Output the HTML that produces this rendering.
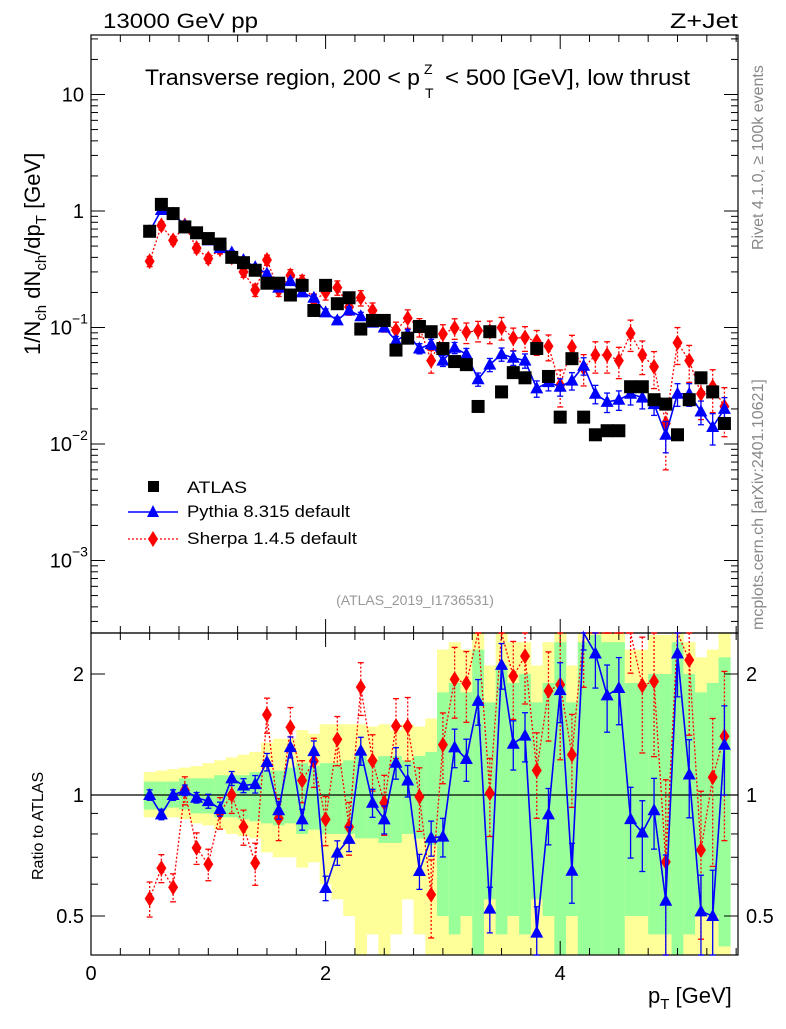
<!DOCTYPE html>
<html><head><meta charset="utf-8"><style>
body{margin:0;background:#fff;width:786px;height:1024px;overflow:hidden;font-family:"Liberation Sans",sans-serif}
svg text{font-family:"Liberation Sans",sans-serif}
</style></head><body>
<svg id="c" width="786" height="1024" xmlns="http://www.w3.org/2000/svg"></svg>
<script>
const xs=[0.5,0.6,0.7,0.8,0.9,1.0,1.1,1.2,1.3,1.4,1.5,1.6,1.7,1.8,1.9,2.0,2.1,2.2,2.3,2.4,2.5,2.6,2.7,2.8,2.9,3.0,3.1,3.2,3.3,3.4,3.5,3.6,3.7,3.8,3.9,4.0,4.1,4.2,4.3,4.4,4.5,4.6,4.7,4.8,4.9,5.0,5.1,5.2,5.3,5.4];
const atlasY=[0.67,1.14,0.95,0.73,0.65,0.58,0.52,0.40,0.36,0.31,0.24,0.24,0.19,0.23,0.14,0.23,0.16,0.18,0.097,0.115,0.115,0.064,0.081,0.102,0.092,0.066,0.051,0.048,0.021,0.092,0.028,0.041,0.037,0.066,0.038,0.017,0.054,0.017,0.012,0.013,0.013,0.031,0.031,0.024,0.022,0.012,0.024,0.037,0.028,0.015];
const pythiaY=[0.67,1.02,0.95,0.75,0.64,0.56,0.48,0.44,0.38,0.33,0.29,0.22,0.25,0.20,0.18,0.135,0.115,0.14,0.125,0.11,0.10,0.077,0.088,0.066,0.072,0.052,0.067,0.059,0.036,0.048,0.059,0.055,0.052,0.030,0.034,0.031,0.035,0.047,0.027,0.023,0.024,0.027,0.025,0.022,0.012,0.027,0.027,0.019,0.014,0.020];
const sherpaY=[0.37,0.75,0.56,0.75,0.48,0.39,0.47,0.40,0.30,0.21,0.38,0.21,0.28,0.25,0.17,0.20,0.22,0.15,0.18,0.14,0.11,0.095,0.12,0.101,0.052,0.088,0.099,0.091,0.094,0.093,0.10,0.081,0.082,0.076,0.069,0.032,0.068,0.045,0.058,0.058,0.052,0.089,0.058,0.046,0.015,0.074,0.052,0.027,0.031,0.021];
const pythiaErr=[0.03,0.03,0.03,0.03,0.03,0.04,0.04,0.04,0.04,0.05,0.05,0.05,0.06,0.06,0.06,0.07,0.07,0.07,0.08,0.08,0.08,0.09,0.09,0.1,0.1,0.11,0.11,0.12,0.13,0.13,0.13,0.14,0.14,0.16,0.16,0.17,0.17,0.17,0.18,0.19,0.19,0.2,0.2,0.2,0.3,0.22,0.22,0.23,0.3,0.25];
const sherpaErr=[0.1,0.08,0.08,0.08,0.09,0.09,0.09,0.1,0.1,0.12,0.1,0.12,0.12,0.12,0.14,0.14,0.14,0.15,0.15,0.16,0.17,0.17,0.18,0.18,0.22,0.2,0.2,0.2,0.2,0.22,0.22,0.22,0.24,0.24,0.25,0.35,0.26,0.3,0.3,0.3,0.3,0.3,0.32,0.35,0.6,0.35,0.35,0.4,0.4,0.45];
const greenLo=[0.92,0.92,0.93,0.92,0.9,0.9,0.88,0.88,0.87,0.86,0.85,0.84,0.85,0.8,0.82,0.8,0.8,0.8,0.78,0.78,0.76,0.76,0.8,0.78,0.75,0.5,0.45,0.5,0.4,0.55,0.45,0.5,0.45,0.55,0.5,0.4,0.5,0.4,0.38,0.4,0.4,0.5,0.5,0.45,0.45,0.38,0.45,0.5,0.5,0.42];
const greenHi=[1.08,1.08,1.08,1.1,1.1,1.1,1.12,1.12,1.12,1.14,1.15,1.15,1.17,1.2,1.18,1.2,1.2,1.22,1.25,1.22,1.25,1.25,1.22,1.25,1.28,1.8,1.9,1.8,2.3,1.7,2.1,1.9,2.0,1.7,1.9,2.4,1.7,2.4,2.5,2.4,2.4,1.9,1.9,2.0,2.0,2.4,2.0,1.8,1.9,2.2];
const yelLo=[0.88,0.88,0.88,0.87,0.85,0.84,0.82,0.8,0.79,0.78,0.72,0.7,0.7,0.66,0.68,0.6,0.55,0.5,0.38,0.45,0.38,0.45,0.55,0.45,0.4,0.35,0.35,0.35,0.3,0.35,0.3,0.3,0.3,0.35,0.3,0.3,0.3,0.3,0.3,0.3,0.3,0.35,0.35,0.3,0.3,0.3,0.3,0.35,0.3,0.3];
const yelHi=[1.14,1.15,1.16,1.17,1.18,1.2,1.22,1.24,1.26,1.28,1.35,1.38,1.38,1.45,1.42,1.5,1.5,1.5,1.5,1.48,1.5,1.45,1.5,1.48,1.55,2.3,2.4,2.3,2.6,2.1,2.6,2.4,2.4,2.1,2.4,2.6,2.1,2.6,2.6,2.6,2.6,2.3,2.3,2.5,2.5,2.6,2.4,2.2,2.3,2.6];
const NS='http://www.w3.org/2000/svg';
const svg=document.getElementById('c');
const L=91,R=738,T=35,MB=633,RB=955;
const X=v=>L+v*117.3;
const Y=v=>211-Math.log10(v)*116.5;
const RY=r=>795-Math.log2(r)*121;
const clipR=y=>Math.max(MB,Math.min(RB,y));
function el(t,a,p){const e=document.createElementNS(NS,t);for(const k in a)e.setAttribute(k,a[k]);(p||svg).appendChild(e);return e;}
function txt(s,x,y,a,p){const e=el('text',Object.assign({x:x,y:y,'font-size':20},a||{}),p);e.textContent=s;return e;}
const gB=el('g',{});


xs.forEach((x,i)=>{
 const r1=el('rect',{x:X(x-0.05),width:117.3*0.1+0.3,y:clipR(RY(yelHi[i])),height:clipR(RY(yelLo[i]))-clipR(RY(yelHi[i])),fill:'#ffff99'},gB);
 
 
 const r2=el('rect',{x:X(x-0.05),width:117.3*0.1+0.3,y:clipR(RY(greenHi[i])),height:clipR(RY(greenLo[i]))-clipR(RY(greenHi[i])),fill:'#99ff99'},gB);
 
 
});
el('line',{x1:L,x2:R,y1:RY(1),y2:RY(1),stroke:'#000','stroke-width':1.2});
el('rect',{x:L,y:T,width:R-L,height:MB-T,fill:'none',stroke:'#000','stroke-width':1.2});
el('rect',{x:L,y:MB,width:R-L,height:RB-MB,fill:'none',stroke:'#000','stroke-width':1.2});
for(let d=-4;d<=1;d++){for(let m=1;m<10;m++){const v=m*Math.pow(10,d);const y=Y(v);if(y<T||y>MB)continue;const len=m==1?14:7;
 el('line',{x1:L,x2:L+len,y1:y,y2:y,stroke:'#000'});el('line',{x1:R,x2:R-len,y1:y,y2:y,stroke:'#000'});}}
const ylab=[[10,'10'],[1,'1'],[0.1,'10'],[0.01,'10'],[0.001,'10']];
const yexp=['','','−1','−2','−3'];
ylab.forEach((l,i)=>{const t=txt(l[1],i<2?84:72,Y(l[0])+7,{'text-anchor':'end'});
 if(yexp[i]){txt(yexp[i],72,Y(l[0])-4,{'font-size':14});}});
[0.5,0.6,0.7,0.8,0.9,1,2].forEach(r=>{const y=RY(r);const len=(r==1||r==2||r==0.5)?14:7;el('line',{x1:L,x2:L+len,y1:y,y2:y,stroke:'#000'});el('line',{x1:R,x2:R-len,y1:y,y2:y,stroke:'#000'});});
[[2,'2'],[1,'1'],[0.5,'0.5']].forEach(l=>{txt(l[1],84,RY(l[0])+7,{'text-anchor':'end'});txt(l[1],746,RY(l[0])+7);});
for(let v=0;v<=5.5;v+=0.25){const x=X(v);if(x>R)break;const maj=Math.abs(v%2)<1e-6;const len=maj?14:7;
 [[MB,MB-len],[T,T+len],[RB,RB-len],[MB,MB+len]].forEach(p=>el('line',{x1:x,x2:x,y1:p[0],y2:p[1],stroke:'#000'}));}
[0,2,4].forEach(v=>txt(String(v),X(v),980,{'text-anchor':'middle'}));
function series(vals,err,color,dash,kind,name){
 const g=el('g',{});
 if(color){const pts=xs.map((x,i)=>X(x)+','+Y(vals[i])).join(' ');el('polyline',{points:pts,fill:'none',stroke:color,'stroke-width':dash?1.3:1.6,'stroke-dasharray':dash||''},g);
  const rp=xs.map((x,i)=>X(x)+','+clipR(RY(vals[i]/atlasY[i]))).join(' ');el('polyline',{points:rp,fill:'none',stroke:color,'stroke-width':dash?1.3:1.6,'stroke-dasharray':dash||''},g);}
 xs.forEach((x,i)=>{const cx=X(x);
  [[Y(vals[i]),Y(vals[i]*(1+err[i])),Y(vals[i]*(1-err[i])),false],[RY(vals[i]/atlasY[i]),RY(vals[i]/atlasY[i]*(1+err[i])),RY(vals[i]/atlasY[i]*(1-err[i])),true]].forEach(q=>{
   let [cy,y1,y2,rat]=q;if(rat){y1=clipR(y1);y2=clipR(y2);}
   const c=color||'#000';
   if(color){el('line',{x1:cx,x2:cx,y1:y1,y2:y2,stroke:c,'stroke-width':1.3,'stroke-dasharray':dash||''},g);
    el('line',{x1:cx-3,x2:cx+3,y1:y1,y2:y1,stroke:c,'stroke-width':1.3},g);el('line',{x1:cx-3,x2:cx+3,y1:y2,y2:y2,stroke:c,'stroke-width':1.3},g);}
   if(rat&&(cy<MB||cy>RB))return;
   let m;
   if(kind=='sq'){if(rat)return;m=el('rect',{x:cx-6.5,y:cy-6.5,width:13,height:13,fill:'#000'},g);}
   else if(kind=='tri')m=el('polygon',{points:`${cx},${cy-7} ${cx-6.5},${cy+5} ${cx+6.5},${cy+5}`,fill:'#0000ff'},g);
   else m=el('polygon',{points:`${cx},${cy-8} ${cx-5},${cy} ${cx},${cy+8} ${cx+5},${cy}`,fill:'#ff0000'},g);
   
   
  });
 });
}
series(sherpaY,sherpaErr,'#ff0000','2,2','dia','sherpa-series');
series(pythiaY,pythiaErr,'#0000ff','','tri','pythia-series');
series(atlasY,atlasY.map(()=>0),null,'','sq','atlas-series');
const e1=txt('13000 GeV pp',103,28,{'font-size':21,textLength:155,lengthAdjust:'spacingAndGlyphs'});
const e2=txt('Z+Jet',738,28,{'text-anchor':'end','font-size':21,textLength:68,lengthAdjust:'spacingAndGlyphs'});
const tt=txt('Transverse region, 200 < p',145,85,{'font-size':22,textLength:275,lengthAdjust:'spacingAndGlyphs'});
txt('Z',424,74,{'font-size':14});txt('T',425,98,{'font-size':14});
txt('< 500 [GeV], low thrust',445,85,{'font-size':22,textLength:245,lengthAdjust:'spacingAndGlyphs'});
const yl=el('text',{transform:'translate(40,355) rotate(-90)','font-size':22});
yl.innerHTML='1/N<tspan font-size="15" dy="6">ch</tspan><tspan dy="-6"> dN</tspan><tspan font-size="15" dy="6">ch</tspan><tspan dy="-6">/dp</tspan><tspan font-size="15" dy="6">T</tspan><tspan dy="-6"> [GeV]</tspan>';
const rl=el('text',{transform:'translate(43,880) rotate(-90)','font-size':16});rl.textContent='Ratio to ATLAS';
const xl=el('text',{x:648,y:1003,'font-size':22});xl.innerHTML='p<tspan font-size="15" dy="6">T</tspan><tspan dy="-6"> [GeV]</tspan>';
const r1=el('text',{transform:'translate(763,250) rotate(-90)','font-size':16,fill:'#888'});r1.textContent='Rivet 4.1.0, ≥ 100k events';
const r2=el('text',{transform:'translate(763,630) rotate(-90)','font-size':16,fill:'#888'});r2.textContent='mcplots.cern.ch [arXiv:2401.10621]';
txt('(ATLAS_2019_I1736531)',415,605,{'font-size':14,fill:'#999','text-anchor':'middle'});
const lg=el('g',{});
el('rect',{x:148,y:481,width:11,height:11,fill:'#000'},lg);txt('ATLAS',187,493,{'font-size':17,textLength:60,lengthAdjust:'spacingAndGlyphs'},lg);
el('line',{x1:128,x2:178,y1:512,y2:512,stroke:'#0000ff','stroke-width':1.6},lg);el('polygon',{points:'153,505 147,517 159,517',fill:'#0000ff'},lg);txt('Pythia 8.315 default',187,517,{'font-size':17,textLength:163,lengthAdjust:'spacingAndGlyphs'},lg);
el('line',{x1:128,x2:178,y1:539,y2:539,stroke:'#ff0000','stroke-width':1.3,'stroke-dasharray':'2,2'},lg);el('polygon',{points:'153,531 148,539 153,547 158,539',fill:'#ff0000'},lg);txt('Sherpa 1.4.5 default',187,544,{'font-size':17,textLength:170,lengthAdjust:'spacingAndGlyphs'},lg);
</script>
</body></html>
